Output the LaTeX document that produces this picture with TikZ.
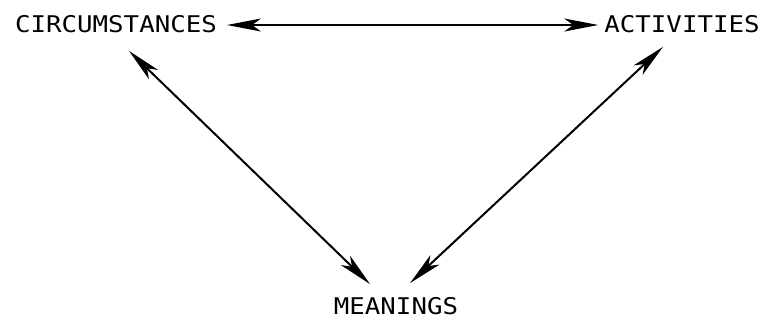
\documentclass[tikz,border=0pt]{standalone}
\usepackage{fontspec}
\newfontfamily\twfont{DejaVu Sans Mono}
\usetikzlibrary{arrows.meta}
\tikzset{
  lbl/.style={inner sep=0pt, font=\twfont\fontsize{23}{23}\selectfont},
  link/.style={line width=2pt, {Stealth[length=34pt,width=13pt,inset=9pt]}-{Stealth[length=34pt,width=13pt,inset=9pt]}}
}
\newcommand{\wtext}[1]{\scalebox{1.12}[1]{#1}}
\begin{document}
\begin{tikzpicture}[x=1pt,y=-1pt]
\useasboundingbox (0,0) rectangle (766,325);
\node[lbl] (c) at (116,24) {\wtext{CIRCUMSTANCES}};
\node[lbl] (a) at (682,24) {\wtext{ACTIVITIES}};
\node[lbl] (m) at (396,306) {\wtext{MEANINGS}};
\draw[link] ([xshift=10pt,yshift=-1pt]c.east) -- ([xshift=-6pt,yshift=-1pt]a.west);
\draw[link] ([shift={(13,18)}]c.south) -- ([shift={(-26,-13)}]m.north);
\draw[link] ([shift={(-19,14)}]a.south) -- ([shift={(14,-14)}]m.north);
\end{tikzpicture}
\end{document}
